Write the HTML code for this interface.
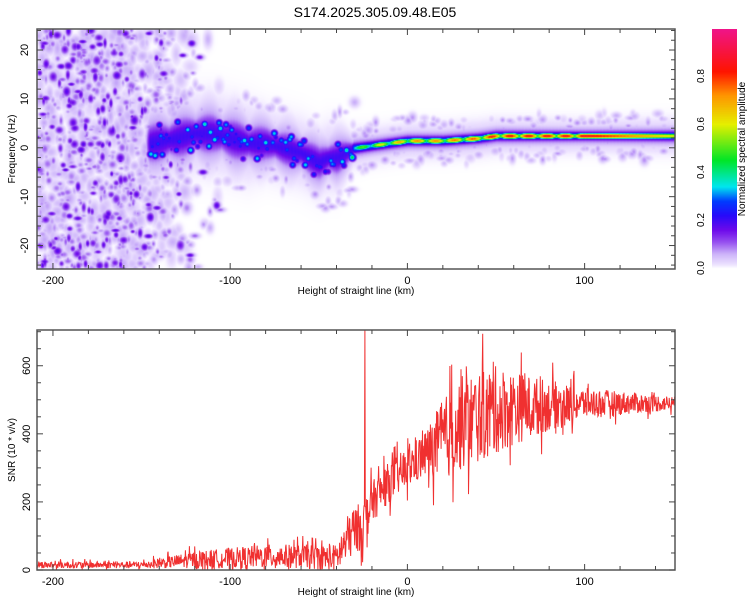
<!DOCTYPE html>
<html><head><meta charset="utf-8"><style>
body{margin:0;background:#fff;width:750px;height:600px;overflow:hidden;font-family:"Liberation Sans",sans-serif}
#wrap{position:relative;width:750px;height:600px}
canvas{position:absolute}
svg{position:absolute;left:0;top:0}
</style></head><body>
<div id="wrap">
<canvas id="hm" width="638" height="240" style="left:37px;top:29px"></canvas>
<canvas id="cb" width="25" height="240" style="left:712px;top:29px"></canvas>
<svg id="s" width="750" height="600"></svg>
</div>
<script>
// ---- data ----
const ridgeH = [-145,-130,-120,-110,-100,-90,-80,-70,-60,-50,-45,-40,-30,-20,0,20,40,50,100,151];
const ridgeF = [1,2,3,3,2,1,1,0,-1,-3,-2,-2,0,0.5,1.5,1.5,2,2.5,2.5,2.5];
const ridgeA = [0.3,0.3,0.32,0.33,0.3,0.33,0.3,0.3,0.28,0.28,0.25,0.3,0.45,0.6,0.75,0.75,0.8,0.88,0.9,0.6];
const ridgeW = [3.5,3.5,3.5,3.5,3.5,3.5,3,3,3,3,3,3,1.4,1.3,1.3,1.3,1.3,1.3,1.2,1.3];
const snrH = [-209,-150,-140,-120,-100,-80,-60,-40,-35,-30,-25,-20,-10,0,10,20,30,50,70,100,151];
const snrMean = [15,15,20,30,35,40,40,35,80,120,130,200,260,300,340,380,430,470,480,490,490];
const snrSpread = [10,10,15,25,30,35,35,40,70,70,70,60,60,60,70,120,140,130,90,45,20];
const xTicks = [-200,-100,0,100];
const fTicks = [-20,-10,0,10,20];
const snrTicks = [0,200,400,600];
const cbTicks = [0.0,0.2,0.4,0.6,0.8];
// ---- axes ----
const X0=37,X1=675,xmin=-209,xmax=151;
const xs=h=>X0+(h-xmin)/(xmax-xmin)*(X1-X0);
const T0=29,T1=269,fmin=-24.8,fmax=24.3;
const fy=f=>T1-(f-fmin)/(fmax-fmin)*(T1-T0);
const B0=330,B1=570,smax=705;
const sy=v=>B1-v/smax*(B1-B0);
function interp(xa,ya,x){if(x<=xa[0])return ya[0];for(let i=1;i<xa.length;i++)if(x<=xa[i]){const t=(x-xa[i-1])/(xa[i]-xa[i-1]);return ya[i-1]+t*(ya[i]-ya[i-1]);}return ya[ya.length-1];}
let seed=12345;function rnd(){seed=(seed*1103515245+12345)%2147483648;return seed/2147483648;}
// colormap
const cm=[[0,255,255,255],[0.015,238,228,255],[0.06,205,180,250],[0.11,150,80,240],[0.16,110,10,235],[0.22,40,10,250],[0.28,0,60,255],[0.34,0,230,240],[0.45,0,230,40],[0.6,230,240,0],[0.72,255,150,0],[0.82,255,20,0],[1,240,20,140]];
function col(v){for(let i=1;i<cm.length;i++)if(v<=cm[i][0]){const a=cm[i-1],b=cm[i],t=(v-a[0])/(b[0]-a[0]);return [a[1]+t*(b[1]-a[1]),a[2]+t*(b[2]-a[2]),a[3]+t*(b[3]-a[3])];}return cm[cm.length-1].slice(1);}
// heatmap (max-combined gaussian blobs)
const W=638,H=240,grid=new Float32Array(W*H);
function blob(cx,cy,rx,ry,a){const x0=Math.max(0,Math.floor(cx-3*rx)),x1=Math.min(W-1,Math.ceil(cx+3*rx)),y0=Math.max(0,Math.floor(cy-3*ry)),y1=Math.min(H-1,Math.ceil(cy+3*ry));for(let y=y0;y<=y1;y++)for(let x=x0;x<=x1;x++){const dx=(x-cx)/rx,dy=(y-cy)/ry;const v=a*Math.exp(-(dx*dx+dy*dy)/2);const k=y*W+x;if(v>grid[k])grid[k]=v;}}
// noise texture
for(let i=0;i<600;i++){const h=xmin+rnd()*(-105-xmin);const dens=h<-155?1:Math.max(0.04,Math.pow((-105-h)/50,1.5));if(rnd()>dens)continue;const f=fmin+rnd()*(fmax-fmin);blob(xs(h)-X0,fy(f)-T0,2.5+rnd()*2.5,3+rnd()*4,0.03+rnd()*0.04);}
for(let i=0;i<1100;i++){const h=xmin+rnd()*(-105-xmin);const dens=h<-155?1:Math.max(0.04,Math.pow((-105-h)/50,1.5));if(rnd()>dens)continue;const f=fmin+rnd()*(fmax-fmin);const r=rnd();blob(xs(h)-X0,fy(f)-T0,1.3+rnd()*2,1.3+rnd()*2.6,r<0.22?0.15+rnd()*0.04:0.05+rnd()*0.06);}
for(let i=0;i<400;i++){const h=-140+rnd()*291;const c=interp(ridgeH,ridgeF,h);const f=c+(rnd()-0.5)*2*(h<-30?10:5);blob(xs(h)-X0,fy(f)-T0,1.5+rnd()*2,1.5+rnd()*2,0.03+rnd()*0.05);}
// ridge
for(let h=-145;h<=151;h+=0.8){const c=interp(ridgeH,ridgeF,h),a=interp(ridgeH,ridgeA,h),w=interp(ridgeH,ridgeW,h);
 const x=xs(h)-X0;
 if(h<-30){const jw=0.8+0.4*Math.abs(Math.sin(h*0.21));blob(x,fy(c)-T0,3,w*3.4*jw,0.2);blob(x,fy(c)-T0,3,w*4.8*jw,0.12);blob(x,fy(c)-T0,3,w*6.5,0.05);if(rnd()<0.6){const f=c+(rnd()-0.5)*2*w;blob(x,fy(f)-T0,2.6,2.6,0.2+rnd()*a*0.6);}}
 else{const m=h>100?1:(0.5+0.5*Math.abs(Math.sin(h*0.3)));blob(x,fy(c)-T0,2.5,w*1.6,a*m);blob(x,fy(c)-T0,3,w*2.6,0.32);blob(x,fy(c)-T0,3,w*3.6,0.2);blob(x,fy(c)-T0,3,w*5,0.13);blob(x,fy(c)-T0,3,w*8,0.05);}}
const ctx=document.getElementById('hm').getContext('2d'),img=ctx.createImageData(W,H);
for(let i=0;i<W*H;i++){const c=col(Math.min(1,grid[i]));img.data[i*4]=c[0];img.data[i*4+1]=c[1];img.data[i*4+2]=c[2];img.data[i*4+3]=255;}
ctx.putImageData(img,0,0);
const cb=document.getElementById('cb').getContext('2d');
for(let y=0;y<240;y++){const v=(239-y)/240;const c=col(v);cb.fillStyle=`rgb(${c[0]|0},${c[1]|0},${c[2]|0})`;cb.fillRect(0,y,25,1);}
// svg
const s=document.getElementById('s');const NS='http://www.w3.org/2000/svg';
function el(t,a,p){const e=document.createElementNS(NS,t);for(const k in a)e.setAttribute(k,a[k]);(p||s).appendChild(e);return e;}
function txt(x,y,str,a,name){const e=el('text',Object.assign({x,y,'font-size':11,fill:'#000','font-family':'Liberation Sans, sans-serif'},a||{}));e.textContent=str;return e;}
txt(375,17,'S174.2025.305.09.48.E05',{'text-anchor':'middle','font-size':14},'chart-title');
// SNR line
const pts=[];for(let h=xmin;h<=xmax;h+=0.25){let m=interp(snrH,snrMean,h),sp=interp(snrH,snrSpread,h);let v=m+(rnd()-0.5)*2*sp*(rnd()<0.15?1.8:1);if(Math.abs(h+24)<0.2)v=705;v=Math.max(0,Math.min(705,v));pts.push(xs(h).toFixed(1)+','+sy(v).toFixed(1));}
const ln=el('polyline',{points:pts.join(' '),fill:'none',stroke:'#f03030','stroke-width':1});

function frame(y0,y1,name){const r=el('rect',{x:X0,y:y0,width:X1-X0,height:y1-y0,fill:'none',stroke:'#555','stroke-width':1.5});
 for(let h=-200;h<=150;h+=20){const x=xs(h),L=h%100===0?6:4;el('line',{x1:x,x2:x,y1:y0,y2:y0+L,stroke:'#444'});el('line',{x1:x,x2:x,y1:y1,y2:y1-L,stroke:'#444'});}
 xTicks.forEach(h=>txt(xs(h),y1+15,String(h),{'text-anchor':'middle'},'x-tick-label'));
 txt(356,y1+25,'Height of straight line (km)',{'text-anchor':'middle','font-size':10},'x-axis-title');}
frame(T0,T1,'spectrogram-frame');frame(B0,B1,'snr-frame');
for(let f=-24;f<=24;f+=2){const y=fy(f),L=f%10===0?6:4;el('line',{x1:X0,x2:X0+L,y1:y,y2:y,stroke:'#444'});el('line',{x1:X1,x2:X1-L,y1:y,y2:y,stroke:'#444'});}
fTicks.forEach(f=>txt(28,fy(f),String(f),{'text-anchor':'middle',transform:`rotate(-90 28 ${fy(f)})`},'y-tick-label'));
txt(15,149,'Frequency (Hz)',{'text-anchor':'middle','font-size':10,transform:'rotate(-90 15 149)'},'y-axis-title');
for(let v=0;v<=700;v+=50){const y=sy(v),L=v%200===0?6:4;el('line',{x1:X0,x2:X0+L,y1:y,y2:y,stroke:'#444'});el('line',{x1:X1,x2:X1-L,y1:y,y2:y,stroke:'#444'});}
snrTicks.forEach(v=>txt(30,sy(v),String(v),{'text-anchor':'middle',transform:`rotate(-90 30 ${sy(v)})`},'snr-tick-label'));
txt(15,450,'SNR (10 * v/v)',{'text-anchor':'middle','font-size':10,transform:'rotate(-90 15 450)'},'snr-axis-title');
cbTicks.forEach(v=>{const y=268-v*240;txt(704,y,v.toFixed(1),{'text-anchor':'middle',transform:`rotate(-90 704 ${y})`,'font-size':10},'colorbar-tick-label');});
txt(745,149,'Normalized spectral amplitude',{'text-anchor':'middle','font-size':10,transform:'rotate(-90 745 149)'},'colorbar-title');
</script></body></html>
